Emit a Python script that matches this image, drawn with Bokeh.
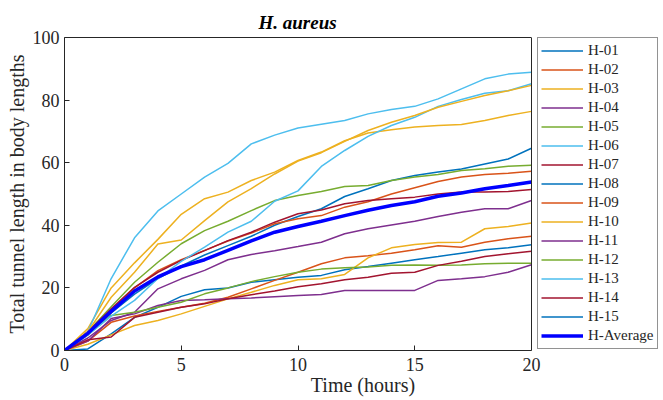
from bokeh.plotting import figure
from bokeh.models import Range1d, FixedTicker, Legend, LegendItem, LinearAxis, Span
from bokeh.embed import file_html
from bokeh.resources import INLINE

hours = list(range(0, 21))

names = ["H-01", "H-02", "H-03", "H-04", "H-05", "H-06", "H-07", "H-08",
         "H-09", "H-10", "H-11", "H-12", "H-13", "H-14", "H-15"]

h01 = [0, 5, 12, 18, 23, 27, 30.5, 33.5, 36.5, 40, 42.8, 45.3, 49.2, 51.7, 54.3, 55.9, 57, 58, 59.6, 61.2, 64.6]
h02 = [0, 6, 13, 20, 25.5, 29, 32, 35, 37.5, 40.5, 42.1, 43.1, 45.8, 47.5, 50, 52, 54, 55.4, 56.2, 56.6, 57.3]
h03 = [0, 7, 20, 28, 35.5, 43.5, 48.5, 50.6, 54.3, 57, 60.7, 63.4, 67, 69.5, 70.5, 71.4, 71.9, 72.2, 73.5, 75.1, 76.4]
h04 = [0, 4, 9.6, 12.2, 19.7, 22.9, 25.6, 29, 30.7, 31.9, 33.2, 34.6, 37.3, 38.9, 40.1, 41.3, 42.8, 44.2, 45.3, 45.3, 47.9]
h05 = [0, 6, 14, 21.8, 28.2, 34.1, 38.3, 41.3, 44.7, 47.9, 49.5, 50.8, 52.4, 52.7, 54.3, 55.4, 56.2, 57.5, 58.1, 58.9, 59.2]
h06 = [0, 6, 23, 36, 44.6, 50, 55.4, 59.8, 66, 68.8, 71.1, 72.3, 73.5, 75.6, 77, 78, 80.4, 83.6, 86.8, 88.3, 88.9]
h07 = [0, 6, 13.3, 20.2, 25, 28.8, 31.9, 35.1, 37.8, 41, 43.7, 44.9, 46.9, 47.9, 48.5, 49, 50, 50.6, 50.6, 50.8, 51.4]
h08 = [0, 0.5, 5.3, 10.6, 13.8, 17.3, 19.4, 20, 21.8, 22.6, 23.4, 24, 25.8, 26.8, 27.9, 29, 30, 31.1, 32.2, 32.8, 33.8]
h09 = [0, 3, 9, 11, 12.5, 13.8, 15.1, 17, 19.7, 22.4, 25, 27.7, 29.6, 30.3, 31.1, 32.2, 33.5, 33, 34.6, 35.7, 36.5]
h10 = [0, 2, 5, 8, 9.6, 11.7, 14.1, 16.5, 18.6, 20.8, 22.6, 22.9, 24.3, 29.6, 32.8, 33.9, 34.5, 34.6, 38.9, 39.6, 40.7]
h11 = [0, 3, 10.2, 11.7, 14.4, 16, 16.2, 16.5, 16.8, 17.2, 17.6, 17.9, 19.2, 19.2, 19.2, 19.2, 22.4, 22.9, 23.6, 25, 27.4]
h12 = [0, 5, 11.2, 12.2, 13.8, 15.4, 18.1, 20, 22, 23.6, 25, 26, 26.4, 26.7, 27.2, 27.3, 27.2, 27.3, 27.7, 27.9, 27.9]
h13 = [0, 5, 11, 16, 23, 28.5, 33, 37.8, 41.3, 47.7, 51, 58.8, 63.9, 68.4, 71.9, 74.5, 78, 80.2, 82.2, 83, 85.2]
h14 = [0, 3.4, 4.3, 10.6, 12.2, 13.8, 14.9, 16.5, 17.8, 19, 20.4, 21.3, 22.6, 23.4, 24.7, 25, 27.2, 28.5, 30, 30.9, 31.7]
h15 = [0, 6, 17, 25, 34, 35.3, 41.5, 47.5, 51.7, 56.4, 60.5, 63.2, 66.8, 70.3, 72.9, 75.1, 77.7, 79.6, 81.5, 83, 84.7]
h_avg = [0, 5.5, 12.5, 19, 23.5, 26.8, 29, 32, 35, 37.8, 39.6, 41.3, 43.1, 44.8, 46.3, 47.5, 49.3, 50.3, 51.7, 52.7, 53.8]

x_ticks = [0, 5, 10, 15, 20]
y_ticks = [0, 20, 40, 60, 80, 100]

series = [h01, h02, h03, h04, h05, h06, h07, h08, h09, h10, h11, h12, h13, h14, h15]
legend_colors = ["#0072BD", "#D95319", "#EDB120", "#7E2F8E", "#77AC30", "#4DBEEE", "#A2142F",
                 "#0072BD", "#D95319", "#EDB120", "#7E2F8E", "#77AC30", "#4DBEEE", "#A2142F",
                 "#0072BD"]
# colours as they appear in the drawing (H-15's trace shows in yellow)
line_colors = legend_colors[:14] + ["#EDB120"]

FONT = "Liberation Serif"
AX = "#262626"

# layout: axes box 64..531 px, the frame continues to 661 px to hold the legend
BOX_L, BOX_R, FRAME_R = 64, 531, 661
x_max = x_ticks[-1] * (FRAME_R - BOX_L) / (BOX_R - BOX_L)

p = figure(width=663, height=400, output_backend="svg", toolbar_location=None,
           x_range=Range1d(0, x_max), y_range=Range1d(0, 100),
           min_border_left=BOX_L, min_border_top=37, min_border_bottom=50,
           min_border_right=663 - FRAME_R, title="H. aureus")
p.grid.visible = False
p.background_fill_color = "white"
p.outline_line_color = None

p.title.align = "left"
p.title.offset = 194
p.title.text_font = FONT
p.title.text_font_style = "bold italic"
p.title.text_font_size = "19px"
p.title.text_color = "black"
p.title.standoff = 10

for ax in (p.xaxis[0], p.yaxis[0]):
    ax.major_label_text_font = FONT
    ax.major_label_text_font_size = "18px"
    ax.major_label_text_color = AX
    ax.axis_label_text_font = FONT
    ax.axis_label_text_font_size = "20px"
    ax.axis_label_text_font_style = "normal"
    ax.axis_label_text_color = AX
    ax.axis_line_color = AX
    ax.major_tick_line_color = AX
    ax.major_tick_in = 5
    ax.major_tick_out = 0
    ax.minor_tick_line_color = None
    ax.major_label_standoff = 5
    ax.axis_label_standoff = 2

p.xaxis[0].major_label_standoff = 7
p.xaxis[0].axis_label_standoff = 0
p.xaxis[0].ticker = FixedTicker(ticks=x_ticks)
p.xaxis[0].bounds = (x_ticks[0], x_ticks[-1])
p.yaxis[0].ticker = FixedTicker(ticks=y_ticks)
p.xaxis[0].axis_label = "Time (hours)"
p.yaxis[0].axis_label = "Total tunnel length in body lengths"

# top edge of the axes box
top_ax = LinearAxis(ticker=FixedTicker(ticks=[]), bounds=(x_ticks[0], x_ticks[-1]),
                    axis_line_color=AX, major_tick_line_color=None, minor_tick_line_color=None)
p.add_layout(top_ax, "above")
# right edge of the axes box
p.add_layout(Span(location=x_ticks[-1], dimension="height", line_color=AX, line_width=1))

items = []
for name, ys, lc, gc in zip(names, series, line_colors, legend_colors):
    r = p.line(hours, ys, line_color=lc, line_width=1.5)
    if lc == gc:
        items.append(LegendItem(label=name, renderers=[r]))
    else:
        # legend swatch in the listed colour; a single point draws no visible mark
        proxy = p.line(hours[:1], ys[:1], line_color=gc, line_width=1.5)
        items.append(LegendItem(label=name, renderers=[proxy]))

ra = p.line(hours, h_avg, line_color="#0000FF", line_width=3.5)
items.append(LegendItem(label="H-Average", renderers=[ra]))

legend = Legend(items=items, location=(473, 1), margin=0, padding=3, spacing=0,
                label_height=19, glyph_height=19, glyph_width=42, label_standoff=5,
                label_text_font=FONT, label_text_font_size="15px", label_text_color=AX,
                border_line_color=AX, border_line_width=1, background_fill_color="white")
p.add_layout(legend)

open("out.html", "w").write(file_html(p, INLINE))
